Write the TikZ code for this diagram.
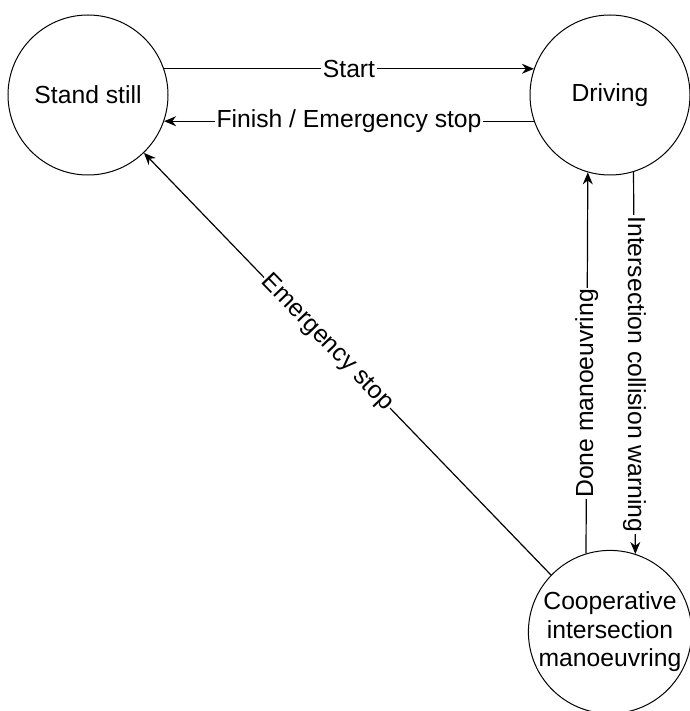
\documentclass[tikz,border=0pt]{standalone}
\usepackage{fontspec}
\setmainfont{Liberation Sans}
\usetikzlibrary{arrows.meta}
\begin{document}
\begin{tikzpicture}[x=1pt,y=-1pt,
  state/.style={circle,draw,line width=1pt,minimum size=#1,inner sep=0pt,align=center,
    font=\fontsize{24.7}{28.5}\selectfont},
  trans/.style={line width=1.2pt,-{Stealth[length=12pt,width=10pt]}},
  lbl/.style={fill=white,inner sep=1.5pt,font=\fontsize{24.7}{28.5}\selectfont}]
\useasboundingbox (0,0) rectangle (689,711);
\node[state=160pt] (ss) at (88,95) {Stand still};
\node[state=160pt] (dr) at (610,95) {Driving};
\node[state=156pt] (co) at (610,632) {Cooperative\\intersection\\manoeuvring};
% transitions between the three states
\draw[trans] (ss.19) -- node[lbl] {Start} (dr.161);
\draw[trans] (dr.-161) -- node[lbl] {Finish / Emergency stop} (ss.-19);
\draw[trans] (co.136.5) -- node[lbl,pos=0.55,rotate=-46] {Emergency stop} (ss.-46.5);
\draw[trans] (co.107.5) -- node[lbl,pos=0.42,rotate=90] {Done manoeuvring} (dr.-106.7);
\draw[trans] (dr.-73.3) -- node[lbl,pos=0.53,rotate=-90] {Intersection collision warning} (co.72.5);
\end{tikzpicture}
\end{document}
